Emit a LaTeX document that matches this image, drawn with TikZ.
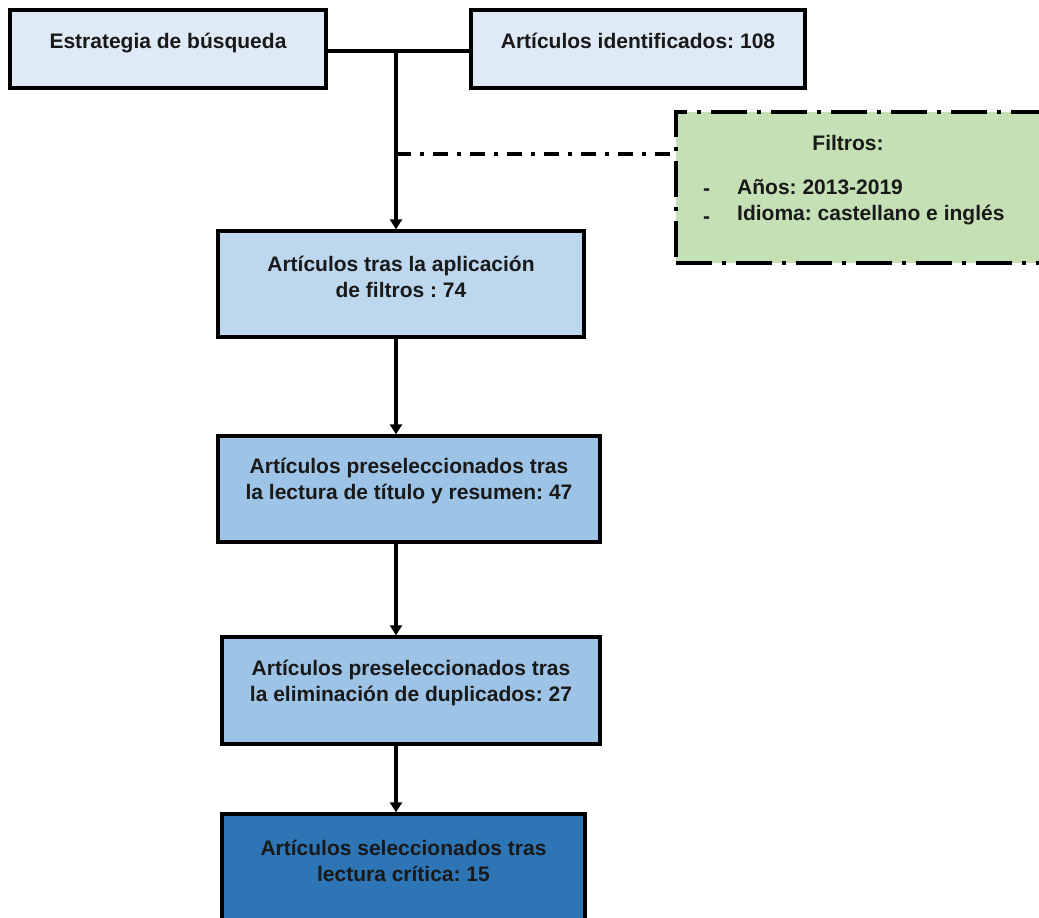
\documentclass[tikz,border=0pt]{standalone}
\usepackage{fontspec}
\setmainfont{Liberation Sans}
\frenchspacing
\usetikzlibrary{arrows.meta}
\definecolor{c1}{HTML}{DEEAF6}
\definecolor{c3}{HTML}{BDD7EE}
\definecolor{c4}{HTML}{9DC3E6}
\definecolor{c6}{HTML}{2E75B6}
\definecolor{cf}{HTML}{C5E0B4}
\tikzset{
  box/.style={draw=black, line width=3.4pt, rectangle, inner sep=0pt},
  txt/.style={font=\bfseries\fontsize{21}{25.5}\selectfont, align=center, inner sep=0pt, text=black!90},
  conn/.style={line width=3.2pt, draw=black},
  arr/.style={conn, -{Triangle[length=10pt,width=12pt]}},
  dashdot/.style={line width=3.2pt, dash pattern=on 15pt off 9pt on 4pt off 9pt},
  fbox/.style={draw=black, fill=cf, line width=3.4pt, dash pattern=on 36pt off 10pt on 4pt off 10pt},
}
\begin{document}
\begin{tikzpicture}[x=1pt,y=-1pt]
\useasboundingbox (0,0) rectangle (1039,918);
\clip (0,0) rectangle (1039,918);
% boxes
\node[box, fill=c1, minimum width=316pt, minimum height=78pt] (b1) at (168,49) {};
\node[box, fill=c1, minimum width=334pt, minimum height=78pt] (b2) at (638,49) {};
\node[box, fill=c3, minimum width=366pt, minimum height=106pt] (b3) at (401,284) {};
\node[box, fill=c4, minimum width=382pt, minimum height=106pt] (b4) at (409,489) {};
\node[box, fill=c4, minimum width=378pt, minimum height=107pt] (b5) at (411,690.5) {};
\node[box, fill=c6, minimum width=363pt, minimum height=130pt] (b6) at (403.5,879) {};
\node[fbox, rectangle, minimum width=380pt, minimum height=151pt, inner sep=0pt] (f) at (866,187.5) {};
% texts
\node[txt] (t1) at (168,43) {Estrategia de búsqueda};
\node[txt] (t2) at (638,41) {Artículos identificados: 108};
\node[txt] (t3) at (401,277) {Artículos tras la aplicación\\de filtros : 74};
\node[txt] (t4) at (409,481) {Artículos preseleccionados tras\\la lectura de título y resumen: 47};
\node[txt] (t5) at (411,683) {Artículos preseleccionados tras\\la eliminación de duplicados: 27};
\node[txt] (t6) at (403.5,861) {Artículos seleccionados tras\\lectura crítica: 15};
\node[txt] (tf) at (848,143) {Filtros:};
\node[txt, anchor=west] (d1) at (703,192) {-};
\node[txt, anchor=west] (i1) at (737,187) {Años: 2013-2019};
\node[txt, anchor=west] (d2) at (703,220) {-};
\node[txt, anchor=west] (i2) at (737,215) {Idioma: castellano e inglés};
% connectors
\coordinate (j) at (396,51);
\coordinate (fj) at (396,154);
\draw[conn] (b1.east |- j) -- (b2.west |- j);
\draw[arr] (j) -- (b3.north -| j);
\draw[dashdot] (fj) -- (fj -| f.west);
\draw[arr] (b3.south -| j) -- (b4.north -| j);
\draw[arr] (b4.south -| j) -- (b5.north -| j);
\draw[arr] (b5.south -| j) -- (b6.north -| j);
\end{tikzpicture}
\end{document}
